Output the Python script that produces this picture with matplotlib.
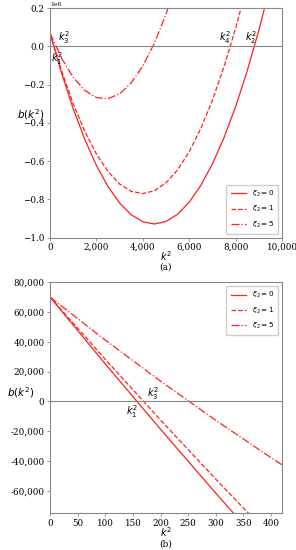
import matplotlib
matplotlib.use("Agg")
import matplotlib.pyplot as plt
from matplotlib.ticker import FuncFormatter

# (a) full range
k2_a = [0, 500, 1000, 1500, 2000, 2500, 3000, 3500, 4000, 4500, 5000,
        5500, 6000, 6500, 7000, 7500, 8000, 8500, 9000, 9500]
b0_a = [70000, -140400, -325900, -486600, -622400, -733400, -819500, -880800,
        -917200, -928800, -915500, -877400, -814400, -726600, -613900, -476400,
        -314100, -126800, 85200, 322200]
k2_a1 = k2_a[:18]
b1_a = [70000, -128300, -299900, -444800, -563100, -654800, -719800, -758100,
        -769800, -754900, -713300, -645000, -550100, -428600, -280400, -105500,
        96000, 324200]
k2_a5 = k2_a[:12]
b5_a = [70000, -61600, -161700, -230300, -267500, -273300, -247600, -190500,
        -101900, 18200, 169700, 352600]

# (b) zoom near origin
k2_b = [0, 100, 200, 300, 400, 420]
b0_b = [70000, 25100, -18700, -61600, -103400, -112000]
b1_b = [70000, 28200, -12500, -52200, -90800, -98500]
b5_b = [70000, 41100, 13600, -12700, -37800, -42600]

labels = [r'$\xi_2 = 0$', r'$\xi_2 = 1$', r'$\xi_2 = 5$']
styles = ['-', '--', '-.']
red = '#ff2020'
grey = '#888888'

plt.rcParams['font.family'] = 'DejaVu Serif'
plt.rcParams['mathtext.fontset'] = 'dejavusans'

fig = plt.figure(figsize=(2.96, 5.5), dpi=100)
ax1 = fig.add_axes([0.169, 0.568, 0.784, 0.417])
ax2 = fig.add_axes([0.169, 0.067, 0.784, 0.420])


def style_axes(ax):
    for s in ax.spines.values():
        s.set_color(grey)
        s.set_linewidth(0.8)
    ax.tick_params(labelsize=6.3, length=2.5, width=0.6, color=grey, pad=1.5)
    ax.axhline(0, color=grey, linewidth=0.8)


leg_kw = dict(fontsize=5.2, handlelength=2.1, borderpad=0.6, labelspacing=0.7,
              handletextpad=0.8, framealpha=1, edgecolor='#cccccc')

# top panel
for xs, ys, ls, lab in zip([k2_a, k2_a1, k2_a5], [b0_a, b1_a, b5_a], styles, labels):
    ax1.plot(xs, ys, color=red, linestyle=ls, linewidth=0.9, label=lab)
style_axes(ax1)
ax1.set_xlim(0, 10000)
ax1.set_ylim(-1.0e6, 0.2e6)
ax1.set_xticks(range(0, 10001, 2000))
ax1.xaxis.set_major_formatter(FuncFormatter(lambda v, p: '{:,}'.format(int(v))))
ax1.set_yticks([-1.0e6, -0.8e6, -0.6e6, -0.4e6, -0.2e6, 0, 0.2e6])
ax1.yaxis.get_offset_text().set_fontsize(4.5)
ax1.yaxis.get_offset_text().set_va('center')
ax1.set_xlabel(r'$k^2$', fontsize=7, labelpad=-2)
ax1.set_ylabel(r'$b(k^2)$', fontsize=7.5, rotation=0, va='center')
ax1.yaxis.set_label_coords(-0.085, 0.535)
ax1.legend(loc='lower right', **leg_kw)
ax1.text(350, 0.03e6, r'$k_3^2$', fontsize=7, family='DejaVu Sans')
ax1.text(30, -0.08e6, r'$k_1^2$', fontsize=7, family='DejaVu Sans')
ax1.text(7300, 0.03e6, r'$k_4^2$', fontsize=7, family='DejaVu Sans')
ax1.text(8400, 0.03e6, r'$k_2^2$', fontsize=7, family='DejaVu Sans')
fig.text(0.56, 1 - 267 / 550, '(a)', fontsize=6.5, ha='center', va='center')

# bottom panel
for ys, ls, lab in zip([b0_b, b1_b, b5_b], styles, labels):
    ax2.plot(k2_b, ys, color=red, linestyle=ls, linewidth=0.9, label=lab)
style_axes(ax2)
ax2.set_xlim(0, 420)
ax2.set_ylim(-75000, 80000)
ax2.set_xticks(range(0, 401, 50))
ax2.set_yticks(range(-60000, 80001, 20000))
ax2.yaxis.set_major_formatter(FuncFormatter(lambda v, p: '{:,}'.format(int(v))))
ax2.set_xlabel(r'$k^2$', fontsize=7, labelpad=-2)
ax2.set_ylabel(r'$b(k^2)$', fontsize=7.5, rotation=0, va='center')
ax2.yaxis.set_label_coords(-0.125, 0.52)
ax2.legend(loc='upper right', **leg_kw)
ax2.text(176, 3000, r'$k_3^2$', fontsize=7, family='DejaVu Sans')
ax2.text(138, -9000, r'$k_1^2$', fontsize=7, family='DejaVu Sans')
fig.text(0.56, 1 - 544 / 550, '(b)', fontsize=6.5, ha='center', va='center')

fig.savefig('out.png', dpi=100)
